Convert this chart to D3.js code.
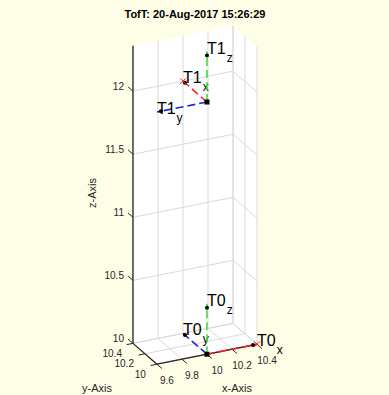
<!DOCTYPE html>
<html><head><meta charset="utf-8">
<script src="https://cdn.jsdelivr.net/npm/d3@7"></script>
<style>body{margin:0;background:#fefee6;} svg{display:block;font-family:"Liberation Sans",Arial,Helvetica,sans-serif;}</style>
</head><body><svg id="c" width="389" height="395"></svg>
<script>
// ---- data ----
const titleText = "TofT: 20-Aug-2017 15:26:29";
const xTicks = [9.6, 9.8, 10, 10.2, 10.4];
const yTicks = [10, 10.2, 10.4];
const zTicks = [10, 10.5, 11, 11.5, 12];
const xTickLabels = ["9.6", "9.8", "10", "10.2", "10.4"];
const yTickLabels = ["10", "10.2", "10.4"];
const zTickLabels = ["10", "10.5", "11", "11.5", "12"];
const xLimits = [9.6, 10.4];
const yLimits = [10, 10.4];
const zLimits = [10, 12.36];
const frameNames = ["T0", "T1"];
const frameOrigins = [[10, 10, 10], [10, 10, 12]];
const frameXAxes = [[1, 0, 0], [0, 1, 0]];
const frameYAxes = [[0, 1, 0], [-1, 0, 0]];
const frameZAxes = [[0, 0, 1], [0, 0, 1]];
const axisLength = 0.4;
const axisNames = ["x", "y", "z"];
const axisColors = ["#ff1f1f", "#2020d8", "#3fe03f"];

// ---- view ----
const az = -25.6 * Math.PI / 180, el = 24.6 * Math.PI / 180;
const unit = 138.7;               // px per data unit (axis equal)
const center = [195, 195];        // screen centre of the axes box

const half = l => (l[1] - l[0]) / 2 * unit;
const xS = d3.scaleLinear().domain(xLimits).range([-half(xLimits), half(xLimits)]);
const yS = d3.scaleLinear().domain(yLimits).range([-half(yLimits), half(yLimits)]);
const zS = d3.scaleLinear().domain(zLimits).range([-half(zLimits), half(zLimits)]);

function projW(X, Y, Z) {
  const sx = Math.cos(az) * X + Math.sin(az) * Y;
  const sy = -Math.sin(az) * Math.sin(el) * X + Math.cos(az) * Math.sin(el) * Y + Math.cos(el) * Z;
  return [sx, sy];
}
function P(p) {
  const [sx, sy] = projW(xS(p[0]), yS(p[1]), zS(p[2]));
  return [center[0] + sx, center[1] - sy];
}
function dir(v) { // screen unit vector of a world direction
  const [sx, sy] = projW(v[0], v[1], v[2]);
  const n = Math.hypot(sx, sy);
  return [sx / n, -sy / n];
}

const svg = d3.select("#c");
const line = d3.line();
const [x0, x1] = xLimits, [y0, y1] = yLimits, [z0, z1] = zLimits;

// white back planes (floor + two back walls)
svg.append("path")
  .attr("d", line([P([x0, y1, z1]), P([x1, y1, z1]), P([x1, y0, z1]), P([x1, y0, z0]), P([x0, y0, z0]), P([x0, y1, z0])]) + "Z")
  .attr("fill", "#ffffff");

const grid = svg.append("g").attr("stroke", "#dadada").attr("stroke-width", 1).attr("fill", "none");
xTicks.forEach(x => grid.append("path").attr("d", line([P([x, y1, z0]), P([x, y1, z1])])));
zTicks.forEach(z => grid.append("path").attr("d", line([P([x0, y1, z]), P([x1, y1, z]), P([x1, y0, z])])));
yTicks.forEach(y => grid.append("path").attr("d", line([P([x1, y, z0]), P([x1, y, z1])])));
xTicks.forEach(x => grid.append("path").attr("d", line([P([x, y0, z0]), P([x, y1, z0])])));
yTicks.forEach(y => grid.append("path").attr("d", line([P([x0, y, z0]), P([x1, y, z0])])));

// axes lines
const ax = svg.append("g").attr("stroke", "#262626").attr("stroke-width", 1.3).attr("fill", "none");
ax.append("path").attr("d", line([P([x0, y0, z0]), P([x1, y0, z0])]));
ax.append("path").attr("d", line([P([x0, y0, z0]), P([x0, y1, z0])]));
ax.append("path").attr("d", line([P([x0, y1, z0]), P([x0, y1, z1])]));

const tickLen = 6.5;
const tickG = svg.append("g").attr("stroke", "#262626").attr("stroke-width", 1);
const lab = svg.append("g").attr("font-size", 10).attr("fill", "#262626");
const dX = dir([0, -1, 0]), dY = dir([-1, 0, 0]), dZ = dir([0, 1, 0]);
xTicks.forEach((x, i) => {
  const p = P([x, y0, z0]);
  tickG.append("line").attr("x1", p[0]).attr("y1", p[1]).attr("x2", p[0] + dX[0] * tickLen).attr("y2", p[1] + dX[1] * tickLen);
  lab.append("text").attr("x", p[0] + 10).attr("y", p[1] + 16).attr("dy", "0.35em").attr("text-anchor", "middle").text(xTickLabels[i]);
});
yTicks.forEach((y, i) => {
  const p = P([x0, y, z0]);
  tickG.append("line").attr("x1", p[0]).attr("y1", p[1]).attr("x2", p[0] + dY[0] * tickLen).attr("y2", p[1] + dY[1] * tickLen);
  lab.append("text").attr("x", p[0] - 11).attr("y", p[1] + 10).attr("dy", "0.35em").attr("text-anchor", "end").text(yTickLabels[i]);
});
zTicks.forEach((z, i) => {
  const p = P([x0, y1, z]);
  tickG.append("line").attr("x1", p[0]).attr("y1", p[1]).attr("x2", p[0] + dZ[0] * tickLen).attr("y2", p[1] + dZ[1] * tickLen);
  lab.append("text").attr("x", p[0] - 9).attr("y", p[1] - 5).attr("dy", "0.35em").attr("text-anchor", "end").text(zTickLabels[i]);
});

// axis titles
svg.append("text").attr("x", 237).attr("y", 388).attr("dy", "0.35em").attr("text-anchor", "middle").attr("font-size", 11).attr("fill", "#262626").text("x-Axis");
svg.append("text").attr("x", 97).attr("y", 388).attr("dy", "0.35em").attr("text-anchor", "middle").attr("font-size", 11).attr("fill", "#262626").text("y-Axis");
svg.append("text").attr("transform", "translate(92,193) rotate(-90)").attr("dy", "0.35em").attr("text-anchor", "middle").attr("font-size", 11).attr("fill", "#262626").text("z-Axis");

// title
svg.append("text").attr("x", 195).attr("y", 14).attr("dy", "0.35em").attr("text-anchor", "middle")
  .attr("font-size", 11).attr("font-weight", "bold").attr("fill", "#000").text(titleText);

// frames
const fg = svg.append("g");
frameNames.forEach((name, f) => {
  const o = frameOrigins[f];
  const axesV = [frameXAxes[f], frameYAxes[f], frameZAxes[f]];
  const po = P(o);
  axesV.forEach((v, k) => {
    const tip = [o[0] + v[0] * axisLength, o[1] + v[1] * axisLength, o[2] + v[2] * axisLength];
    const pt = P(tip);
    fg.append("path").attr("d", line([po, pt])).attr("stroke", axisColors[k]).attr("stroke-width", 1.6)
      .attr("stroke-dasharray", "8,4").attr("fill", "none");
    const hd = P([o[0] + v[0] * axisLength * 0.92, o[1] + v[1] * axisLength * 0.92, o[2] + v[2] * axisLength * 0.92]);
    fg.append("circle").attr("cx", hd[0]).attr("cy", hd[1]).attr("r", 2).attr("fill", "#000");
    if (k === 0) {
      fg.append("path").attr("d", `M${pt[0]-3},${pt[1]-3}L${pt[0]+3},${pt[1]+3}M${pt[0]-3},${pt[1]+3}L${pt[0]+3},${pt[1]-3}`)
        .attr("stroke", axisColors[0]).attr("stroke-width", 1);
    }
    const t = fg.append("text").attr("x", pt[0]).attr("y", pt[1] + 2).attr("fill", "#000");
    t.append("tspan").attr("font-size", 16).text(name);
    t.append("tspan").attr("font-size", 12).attr("dx", 1).attr("dy", 8).text(axisNames[k]);
  });
  fg.append("rect").attr("x", po[0] - 2.5).attr("y", po[1] - 2.5).attr("width", 5).attr("height", 5).attr("fill", "#000");
});
</script>
</body></html>
